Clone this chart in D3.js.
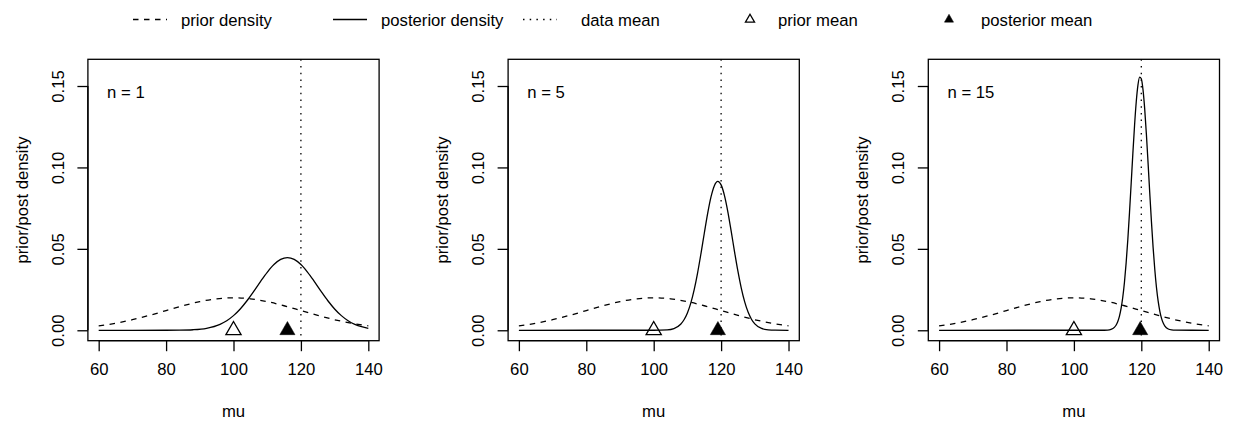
<!DOCTYPE html>
<html>
<head>
<meta charset="utf-8">
<script src="https://cdn.jsdelivr.net/npm/d3@7"></script>
<style>
  html, body { margin: 0; padding: 0; background: #fff; }
  svg { display: block; font-family: "Liberation Sans", Arial, Helvetica, sans-serif; }
</style>
</head>
<body>
<svg id="chart" width="1235" height="421"></svg>
<script>
// ---------------- data ----------------
const xTicks = [60, 80, 100, 120, 140];
const yTicks = [0, 0.05, 0.10, 0.15];
const yTickLabels = ["0.00", "0.05", "0.10", "0.15"];
const sampleSizes = [1, 5, 15];
const dataMean = 120;
const priorMean = 100;
const posteriorMeans = [116, 119.05, 119.67];

const priorX = [60, 65, 70, 75, 80, 85, 90, 95, 100, 105, 110, 115, 120, 125, 130, 135, 140];
const priorY = [0.00270, 0.00431, 0.00648, 0.00913, 0.01210, 0.01506, 0.01760, 0.01933, 0.01995,
                0.01933, 0.01760, 0.01506, 0.01210, 0.00913, 0.00648, 0.00431, 0.00270];

const post1X = [60, 70, 80, 84, 88, 92, 96, 98, 100, 102, 104, 106, 108, 110, 112, 114, 116,
                118, 120, 122, 124, 126, 128, 130, 132, 134, 136, 138, 140];
const post1Y = [0, 0, 0.00001, 0.00007, 0.00033, 0.00122, 0.00366, 0.00589, 0.00900, 0.01310,
                0.01813, 0.02387, 0.02990, 0.03561, 0.04036, 0.04350, 0.04460, 0.04350, 0.04036,
                0.03561, 0.02990, 0.02387, 0.01813, 0.01310, 0.00900, 0.00589, 0.00366, 0.00217, 0.00122];

const post5X = [60, 100, 104, 106, 108, 109, 110, 111, 112, 113, 114, 115, 116, 117, 118, 119,
                120, 121, 122, 123, 124, 125, 126, 127, 128, 129, 130, 132, 134, 136, 140];
const post5Y = [0, 0.00001, 0.00024, 0.00105, 0.00371, 0.00645, 0.01065, 0.01668, 0.02480,
                0.03498, 0.04681, 0.05944, 0.07161, 0.08188, 0.08881, 0.09142, 0.08928, 0.08273,
                0.07275, 0.06070, 0.04805, 0.03610, 0.02573, 0.01740, 0.01117, 0.00680, 0.00393,
                0.00112, 0.00026, 0.00005, 0];

const post15X = [60, 108, 110, 111, 112, 112.5, 113, 113.5, 114, 114.5, 115, 115.5, 116, 116.5,
                 117, 117.5, 118, 118.5, 119, 119.5, 120, 120.5, 121, 121.5, 122, 122.5, 123,
                 123.5, 124, 124.5, 125, 125.5, 126, 126.5, 127, 128, 129, 130, 140];
const post15Y = [0, 0.000005, 0.00012, 0.00051, 0.00176, 0.00309, 0.00524, 0.00855, 0.01343,
                 0.02030, 0.02953, 0.04136, 0.05578, 0.07240, 0.09046, 0.10879, 0.12593, 0.14033,
                 0.15052, 0.15543, 0.15448, 0.14780, 0.13611, 0.12066, 0.10296, 0.08458, 0.06687,
                 0.05091, 0.03729, 0.02629, 0.01785, 0.01166, 0.00734, 0.00444, 0.00259, 0.00078,
                 0.00020, 0.00005, 0];

const posteriorX = [post1X, post5X, post15X];
const posteriorY = [post1Y, post5Y, post15Y];

const legendLabels = ["prior density", "posterior density", "data mean", "prior mean", "posterior mean"];

// ---------------- layout ----------------
const svg = d3.select("#chart");
const FONT = 16.7;
const LW = 1.3;
const panelLefts = [87.9, 508.1, 928.3];
const boxW = 291.2, boxTop = 59.3, boxBottom = 340.7;

const xDomain = [60 - 0.04 * 80, 140 + 0.04 * 80];
const yDomain = [0 - 0.04 * 0.16, 0.16 + 0.04 * 0.16];

const y = d3.scaleLinear().domain(yDomain).range([boxBottom, boxTop]);

sampleSizes.forEach((n, i) => {
  const left = panelLefts[i];
  const x = d3.scaleLinear().domain(xDomain).range([left, left + boxW]);
  const g = svg.append("g");

  const line = d3.line().x(d => x(d[0])).y(d => y(d[1])).curve(d3.curveMonotoneX);

  // prior (dashed)
  g.append("path")
    .datum(d3.zip(priorX, priorY))
    .attr("d", line)
    .attr("fill", "none").attr("stroke", "#000").attr("stroke-width", LW)
    .attr("stroke-dasharray", "5.5,5.5");

  // posterior (solid)
  g.append("path")
    .datum(d3.zip(posteriorX[i], posteriorY[i]))
    .attr("d", line)
    .attr("fill", "none").attr("stroke", "#000").attr("stroke-width", LW);

  // data mean (dotted vertical)
  g.append("line")
    .attr("x1", x(dataMean)).attr("x2", x(dataMean))
    .attr("y1", boxTop).attr("y2", boxBottom)
    .attr("stroke", "#000").attr("stroke-width", LW)
    .attr("stroke-dasharray", "1.5,5.2");

  // means
  const tri = d3.symbol().type(d3.symbolTriangle).size(100);
  g.append("path").attr("d", tri)
    .attr("transform", `translate(${x(priorMean)},${y(0)})`)
    .attr("fill", "none").attr("stroke", "#000").attr("stroke-width", LW);
  g.append("path").attr("d", tri)
    .attr("transform", `translate(${x(posteriorMeans[i])},${y(0)})`)
    .attr("fill", "#000").attr("stroke", "#000").attr("stroke-width", 0.5);

  // box
  g.append("rect")
    .attr("x", left).attr("y", boxTop).attr("width", boxW).attr("height", boxBottom - boxTop)
    .attr("fill", "none").attr("stroke", "#000").attr("stroke-width", LW);

  // x axis
  const xa = g.append("g").attr("transform", `translate(0,${boxBottom})`)
    .call(d3.axisBottom(x).tickValues(xTicks).tickSize(10.5).tickPadding(12).tickFormat(d3.format("d")));
  xa.select(".domain").attr("d", `M${x(60)},0H${x(140)}`).attr("stroke-width", LW);
  xa.selectAll(".tick line").attr("stroke-width", LW);
  xa.selectAll("text").attr("font-size", FONT).attr("font-family", "Liberation Sans, Arial, sans-serif").attr("fill", "#000");

  // y axis
  const ya = g.append("g").attr("transform", `translate(${left},0)`)
    .call(d3.axisLeft(y).tickValues(yTicks).tickSize(10.5).tickFormat((d, k) => yTickLabels[k]));
  ya.select(".domain").attr("d", `M0,${y(0)}V${y(0.15)}`).attr("stroke-width", LW);
  ya.selectAll(".tick line").attr("stroke-width", LW);
  ya.selectAll("text")
    .attr("font-size", FONT).attr("font-family", "Liberation Sans, Arial, sans-serif").attr("fill", "#000")
    .attr("x", null).attr("dy", null)
    .attr("text-anchor", "middle")
    .attr("transform", "translate(-24,0) rotate(-90)");

  // axis titles
  g.append("text").attr("x", left + boxW / 2).attr("y", 417)
    .attr("text-anchor", "middle").attr("font-size", FONT).text("mu");
  g.append("text")
    .attr("transform", `translate(${left - 60},${(boxTop + boxBottom) / 2}) rotate(-90)`)
    .attr("text-anchor", "middle").attr("font-size", FONT).text("prior/post density");

  // n label
  g.append("text").attr("x", x(62.5)).attr("y", 98)
    .attr("font-size", FONT).text(`n = ${n}`);
});

// ---------------- legend ----------------
const lg = svg.append("g");
const legY = 19.5;
const symCenters = [150, 350, 540, 750, 949];
const textX = [181, 381, 581, 778, 981];
const dashes = ["5.5,5.5", null, "1.5,5.2"];
[0, 1, 2].forEach(k => {
  const l = lg.append("line")
    .attr("x1", symCenters[k] - 17).attr("x2", symCenters[k] + 17)
    .attr("y1", legY).attr("y2", legY)
    .attr("stroke", "#000").attr("stroke-width", LW);
  if (dashes[k]) l.attr("stroke-dasharray", dashes[k]);
});
const smallTri = d3.symbol().type(d3.symbolTriangle).size(36);
lg.append("path").attr("d", smallTri).attr("transform", `translate(${symCenters[3]},${legY})`)
  .attr("fill", "none").attr("stroke", "#000").attr("stroke-width", LW);
lg.append("path").attr("d", smallTri).attr("transform", `translate(${symCenters[4]},${legY})`)
  .attr("fill", "#000").attr("stroke", "#000").attr("stroke-width", 0.5);
legendLabels.forEach((t, k) => {
  lg.append("text").attr("x", textX[k]).attr("y", legY + 6)
    .attr("font-size", FONT).text(t);
});
</script>
</body>
</html>
